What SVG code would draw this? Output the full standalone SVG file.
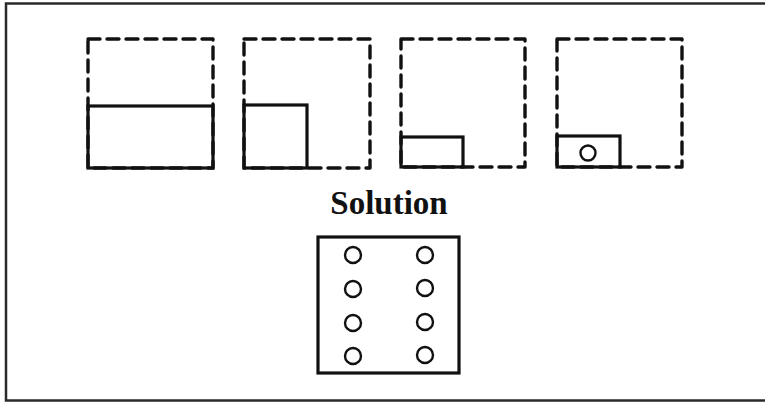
<svg xmlns="http://www.w3.org/2000/svg" width="765" height="403" viewBox="0 0 765 403">
  <style>
    .frame { fill: none; stroke: #2a2a2a; stroke-width: 2.5; }
    .dash { fill: none; stroke: #111; stroke-width: 3.4; stroke-dasharray: 12 7; stroke-linejoin: round; stroke-linecap: round; }
    .solid { fill: none; stroke: #111; stroke-width: 3.2; }
    .hole { fill: none; stroke: #111; stroke-width: 2.4; }
    .title { font-family: "Liberation Serif", "Times New Roman", serif; font-weight: bold; font-size: 33px; fill: #111; }
  </style>
  <rect x="0" y="0" width="765" height="403" fill="#fff"/>
  <rect class="frame" x="6" y="3.5" width="762" height="397"/>

  <!-- step 1: paper folded in half upward -->
  <g id="step1">
    <rect class="dash" x="88" y="39" width="125" height="129"/>
    <rect class="solid" x="88" y="106" width="125" height="62"/>
  </g>

  <!-- step 2: folded again to the left -->
  <g id="step2">
    <rect class="dash" x="244" y="39" width="126" height="129"/>
    <rect class="solid" x="244" y="105" width="63" height="63"/>
  </g>

  <!-- step 3: folded down to a strip -->
  <g id="step3">
    <rect class="dash" x="401" y="39" width="124" height="128"/>
    <rect class="solid" x="401" y="137" width="62" height="30"/>
  </g>

  <!-- step 4: hole punched through the folds -->
  <g id="step4">
    <rect class="dash" x="557" y="39" width="125" height="128"/>
    <rect class="solid" x="557" y="136" width="63" height="31"/>
    <circle class="hole" cx="588" cy="153" r="7.5"/>
  </g>

  <text class="title" x="389" y="214" text-anchor="middle">Solution</text>

  <!-- unfolded sheet with eight holes -->
  <g id="solution">
    <rect class="solid" x="318" y="237" width="141" height="136"/>
    <circle class="hole" cx="353" cy="255" r="8"/>
    <circle class="hole" cx="353" cy="289" r="8"/>
    <circle class="hole" cx="353" cy="323" r="8"/>
    <circle class="hole" cx="353" cy="356" r="8"/>
    <circle class="hole" cx="425" cy="255" r="8"/>
    <circle class="hole" cx="425" cy="288" r="8"/>
    <circle class="hole" cx="425" cy="322" r="8"/>
    <circle class="hole" cx="425" cy="355" r="8"/>
  </g>
</svg>
